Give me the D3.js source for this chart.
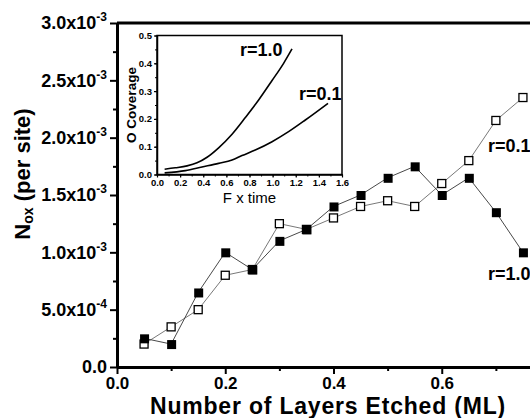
<!DOCTYPE html>
<html>
<head>
<meta charset="utf-8">
<script src="https://cdn.jsdelivr.net/npm/d3@7"></script>
<style>
    body { margin: 0; background: #fff; }
    svg { display: block; font-family: "Liberation Sans", Arial, sans-serif; }
</style>
</head>
<body>
<svg id="chart" width="530" height="418"></svg>
<script>
// main plot data (N_ox per site vs layers etched)
const layers = [0.05, 0.10, 0.15, 0.20, 0.25, 0.30, 0.35, 0.40, 0.45, 0.50, 0.55, 0.60, 0.65, 0.70, 0.75];
const noxR10 = [2.5e-4, 2.0e-4, 6.5e-4, 1.0e-3, 0.85e-3, 1.1e-3, 1.2e-3, 1.4e-3, 1.5e-3, 1.65e-3, 1.75e-3, 1.5e-3, 1.65e-3, 1.35e-3, 1.0e-3];
const noxR01 = [2.0e-4, 3.5e-4, 5.0e-4, 0.8e-3, 0.85e-3, 1.25e-3, 1.2e-3, 1.3e-3, 1.4e-3, 1.45e-3, 1.4e-3, 1.6e-3, 1.8e-3, 2.15e-3, 2.35e-3];

const xTicks = [0, 0.2, 0.4, 0.6];
const xMinor = [0.1, 0.3, 0.5, 0.7];
const yTicks = [0, 0.5e-3, 1.0e-3, 1.5e-3, 2.0e-3, 2.5e-3, 3.0e-3];
const yMinor = [0.25e-3, 0.75e-3, 1.25e-3, 1.75e-3, 2.25e-3, 2.75e-3];

// inset data (O coverage vs F x time)
const ftimeR10 = [0.066, 0.158, 0.26, 0.346, 0.433, 0.533, 0.649, 0.764, 0.879, 0.995, 1.095, 1.168];
const covR10   = [0.019, 0.024, 0.031, 0.042, 0.062, 0.096, 0.145, 0.205, 0.268, 0.338, 0.400, 0.452];
const ftimeR01 = [0.066, 0.245, 0.389, 0.533, 0.649, 0.735, 0.850, 0.995, 1.138, 1.283, 1.479];
const covR01   = [0.006, 0.014, 0.027, 0.040, 0.052, 0.068, 0.088, 0.118, 0.154, 0.196, 0.256];

const insetXTicks = [0, 0.2, 0.4, 0.6, 0.8, 1.0, 1.2, 1.4, 1.6];
const insetYTicks = [0, 0.1, 0.2, 0.3, 0.4, 0.5];

const svg = d3.select("#chart");

const x = d3.scaleLinear().domain([0, 0.8]).range([117, 550]);
const y = d3.scaleLinear().domain([0, 3e-3]).range([367, 23]);

// top frame line
svg.append("line")
   .attr("x1", x(0)).attr("x2", x(0.8))
   .attr("y1", y(3e-3)).attr("y2", y(3e-3))
   .attr("stroke", "#000").attr("stroke-width", 3);

// y axis
const yAxisG = svg.append("g")
   .attr("transform", `translate(${x(0)},0)`)
   .call(d3.axisLeft(y).tickValues(yTicks).tickSize(7).tickSizeOuter(0).tickPadding(3));
svg.append("g")
   .attr("transform", `translate(${x(0)},0)`)
   .call(d3.axisLeft(y).tickValues(yMinor).tickSize(4).tickFormat(""))
   .call(g => g.select(".domain").remove())
   .selectAll("line").attr("stroke-width", 2);

yAxisG.select(".domain").attr("stroke-width", 3);
yAxisG.selectAll(".tick line").attr("stroke-width", 2);
yAxisG.selectAll(".tick text")
   .attr("font-family", '"Liberation Sans", Arial, sans-serif')
   .attr("font-size", 18).attr("font-weight", "bold").attr("fill", "#000")
   .each(function(d) {
       const t = d3.select(this).text("");
       if (d === 0) { t.text("0.0"); return; }
       const e = Math.floor(Math.log10(d) + 1e-9);
       const m = d / Math.pow(10, e);
       t.append("tspan").text(m.toFixed(1) + "x10");
       t.append("tspan").attr("font-size", 12).attr("dy", -8).text(e);
   });

// x axis
const xAxisG = svg.append("g")
   .attr("transform", `translate(0,${y(0)})`)
   .call(d3.axisBottom(x).tickValues(xTicks).tickSize(7).tickSizeOuter(0).tickPadding(3)
         .tickFormat(d3.format(".1f")));
svg.append("g")
   .attr("transform", `translate(0,${y(0)})`)
   .call(d3.axisBottom(x).tickValues(xMinor).tickSize(4).tickFormat(""))
   .call(g => g.select(".domain").remove())
   .selectAll("line").attr("stroke-width", 2);

xAxisG.select(".domain").attr("stroke-width", 3);
xAxisG.selectAll(".tick line").attr("stroke-width", 2);
xAxisG.selectAll(".tick text")
   .attr("font-family", '"Liberation Sans", Arial, sans-serif')
   .attr("font-size", 17).attr("font-weight", "bold").attr("fill", "#000");

// axis titles
svg.append("text")
   .attr("x", 328).attr("y", 414)
   .attr("text-anchor", "middle")
   .attr("font-size", 23).attr("font-weight", "bold")
   .attr("letter-spacing", 0.8)
   .text("Number of Layers Etched (ML)");

const yTitle = svg.append("text")
   .attr("transform", "translate(30,174) rotate(-90)")
   .attr("text-anchor", "middle")
   .attr("font-size", 22).attr("font-weight", "bold");
yTitle.append("tspan").text("N");
yTitle.append("tspan").attr("font-size", 14).attr("dy", 3).text("ox");
yTitle.append("tspan").attr("dy", -3).text(" (per site)");

// series lines
const line = d3.line().x((d, i) => x(layers[i])).y(d => y(d));
svg.append("path").datum(noxR01)
   .attr("d", line).attr("fill", "none")
   .attr("stroke", "#555").attr("stroke-width", 0.8);
svg.append("path").datum(noxR10)
   .attr("d", line).attr("fill", "none")
   .attr("stroke", "#333").attr("stroke-width", 0.9);

const sq = 8;
svg.selectAll(".open").data(noxR01).enter().append("rect")
   .attr("class", "open")
   .attr("x", (d, i) => x(layers[i]) - sq / 2)
   .attr("y", d => y(d) - sq / 2)
   .attr("width", sq).attr("height", sq)
   .attr("fill", "#fff").attr("stroke", "#000").attr("stroke-width", 1.3);
svg.selectAll(".filled").data(noxR10).enter().append("rect")
   .attr("class", "filled")
   .attr("x", (d, i) => x(layers[i]) - sq / 2)
   .attr("y", d => y(d) - sq / 2)
   .attr("width", sq + 1).attr("height", sq + 1)
   .attr("fill", "#000");

// series labels
svg.append("text").attr("x", 488).attr("y", 152)
   .attr("font-size", 18).attr("font-weight", "bold").text("r=0.1");
svg.append("text").attr("x", 488).attr("y", 280)
   .attr("font-size", 18).attr("font-weight", "bold").text("r=1.0");

// ---- inset ----
const ix = d3.scaleLinear().domain([0, 1.6]).range([157, 342]);
const iy = d3.scaleLinear().domain([0, 0.5]).range([174.5, 35.5]);

svg.append("rect")
   .attr("x", ix(0)).attr("y", iy(0.5))
   .attr("width", ix(1.6) - ix(0)).attr("height", iy(0) - iy(0.5))
   .attr("fill", "#fff").attr("stroke", "#000").attr("stroke-width", 1.5);

const iyAxisG = svg.append("g")
   .attr("transform", `translate(${ix(0)},0)`)
   .call(d3.axisLeft(iy).tickValues(insetYTicks).tickSize(3).tickSizeOuter(0).tickPadding(2)
         .tickFormat(d3.format(".1f")));
svg.append("g")
   .attr("transform", `translate(${ix(0)},0)`)
   .call(d3.axisLeft(iy).ticks(10).tickSize(2).tickFormat(""))
   .call(g => g.select(".domain").remove());

const ixAxisG = svg.append("g")
   .attr("transform", `translate(0,${iy(0)})`)
   .call(d3.axisBottom(ix).tickValues(insetXTicks).tickSize(3).tickSizeOuter(0).tickPadding(2)
         .tickFormat(d3.format(".1f")));
svg.append("g")
   .attr("transform", `translate(0,${iy(0)})`)
   .call(d3.axisBottom(ix).ticks(16).tickSize(2).tickFormat(""))
   .call(g => g.select(".domain").remove());

[iyAxisG, ixAxisG].forEach(g => {
    g.select(".domain").attr("stroke-width", 1.5);
    g.selectAll(".tick line").attr("stroke-width", 1.2);
    g.selectAll(".tick text")
     .attr("font-family", '"Liberation Sans", Arial, sans-serif')
     .attr("font-size", 9.5).attr("font-weight", "bold").attr("fill", "#000");
});

svg.append("text")
   .attr("x", ix(0.8)).attr("y", 203)
   .attr("text-anchor", "middle").attr("font-size", 15)
   .text("F x time");
svg.append("text")
   .attr("transform", `translate(136,${(iy(0) + iy(0.5)) / 2}) rotate(-90)`)
   .attr("text-anchor", "middle")
   .attr("font-size", 13.5).attr("font-weight", "bold")
   .text("O Coverage");

const iline = xs => d3.line().curve(d3.curveMonotoneX)
   .x((d, i) => ix(xs[i])).y(d => iy(d));
svg.append("path").datum(covR10)
   .attr("d", iline(ftimeR10)).attr("fill", "none")
   .attr("stroke", "#000").attr("stroke-width", 1.6);
svg.append("path").datum(covR01)
   .attr("d", iline(ftimeR01)).attr("fill", "none")
   .attr("stroke", "#000").attr("stroke-width", 1.6);

svg.append("text").attr("x", 240).attr("y", 56)
   .attr("font-size", 18).attr("font-weight", "bold").text("r=1.0");
svg.append("text").attr("x", 299).attr("y", 100)
   .attr("font-size", 18).attr("font-weight", "bold").text("r=0.1");
</script>
</body>
</html>
